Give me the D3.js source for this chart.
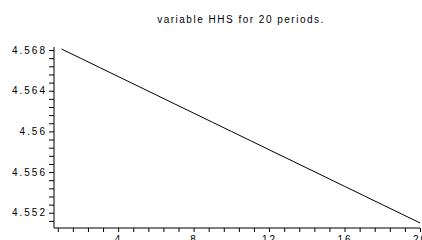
<!DOCTYPE html>
<html>
	<head>
		<style>
			body, html { margin: 0; padding: 0; background: #fff; }
			text { font-family: 'Liberation Sans', Helvetica, sans-serif; }
		</style>
	</head>
	<body>
		<svg id="svg" width="422" height="240"></svg>
		<script src="https://d3js.org/d3.v7.min.js"></script>
		<script>
			// periods and values of HHS
			const periods = d3.range(1, 21)
			const hhs = [4.5681, 4.5672, 4.5663, 4.5654, 4.5645, 4.5636, 4.5627, 4.5618, 4.5609, 4.5600,
				4.5591, 4.5582, 4.5573, 4.5564, 4.5555, 4.5546, 4.5537, 4.5528, 4.5519, 4.5510]
			const xLabels = [4, 8, 12, 16, 20]
			const yLabels = [4.552, 4.556, 4.56, 4.564, 4.568]
			const title = 'variable HHS for 20 periods.'

			const svg = d3.select('#svg')

			const x = d3.scaleLinear().domain([0.6, 20]).range([54, 420])
			const y = d3.scaleLinear().domain([4.5505, 4.5683]).range([228, 47])

			// minor + major ticks
			const xTicks = d3.range(1, 26).map(i => +(i * 0.8).toFixed(2))
			const yTicks = d3.range(0, 22).map(i => +(4.5512 + i * 0.0008).toFixed(4))

			const xAxis = d3.axisBottom(x)
				.tickValues(xTicks)
				.tickSize(4)
				.tickFormat(d => xLabels.includes(d) ? d : '')
			const yAxis = d3.axisLeft(y)
				.tickValues(yTicks)
				.tickSize(5)
				.tickFormat(d => yLabels.some(v => Math.abs(v - d) < 1e-6) ? d3.format('')(+d.toFixed(3)) : '')

			const gx = svg.append('g')
				.attr('transform', `translate(0,${y.range()[0]})`)
				.call(xAxis)
			const gy = svg.append('g')
				.attr('transform', `translate(${x.range()[0]},0)`)
				.call(yAxis)

			;[gx, gy].forEach(g => {
				g.select('.domain').attr('stroke', '#000')
				g.selectAll('.tick line').attr('stroke', '#000')
				g.selectAll('.tick text')
					.attr('fill', '#000')
					.attr('font-family', "'Liberation Sans', Helvetica, sans-serif")
					.attr('font-size', 10)
					.attr('letter-spacing', 2)
			})
			gx.select('.domain').attr('d', `M${x.range()[0]},0H${x.range()[1]}`)
			gy.select('.domain').attr('d', `M0,${y.range()[0]}V${y.range()[1]}`)
			// x labels sit at the bottom edge, partly cut as in the original
			gx.selectAll('.tick text').attr('dy', 8)
			gy.selectAll('.tick text').attr('x', -7)

			const line = d3.line()
				.x((d, i) => x(periods[i]))
				.y(d => y(d))

			svg.append('path')
				.datum(hhs)
				.attr('fill', 'none')
				.attr('stroke', '#000')
				.attr('stroke-width', 1)
				.attr('d', line)

			svg.append('text')
				.attr('x', 241)
				.attr('y', 23)
				.attr('text-anchor', 'middle')
				.attr('font-size', 10)
				.attr('letter-spacing', 1.5)
				.text(title)
		</script>
	</body>
</html>
